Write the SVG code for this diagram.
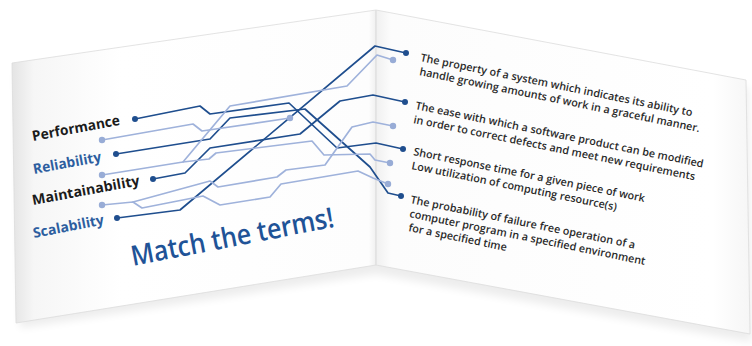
<svg xmlns="http://www.w3.org/2000/svg" width="752" height="346" viewBox="0 0 752 346">
  <defs>
    <filter id="soft" x="-10%" y="-10%" width="120%" height="130%">
      <feGaussianBlur stdDeviation="4"/>
    </filter>
    <linearGradient id="leftFill" x1="12" y1="0" x2="376" y2="0" gradientUnits="userSpaceOnUse">
      <stop offset="0" stop-color="#e4e4e4"/>
      <stop offset="0.06" stop-color="#f6f6f6"/>
      <stop offset="0.3" stop-color="#ffffff"/>
      <stop offset="0.98" stop-color="#fdfdfd"/>
      <stop offset="1" stop-color="#f0f0f0"/>
    </linearGradient>
    <linearGradient id="rightFill" x1="376" y1="0" x2="750" y2="0" gradientUnits="userSpaceOnUse">
      <stop offset="0" stop-color="#f0f0f0"/>
      <stop offset="0.04" stop-color="#fcfcfc"/>
      <stop offset="0.9" stop-color="#ffffff"/>
      <stop offset="1" stop-color="#f6f6f6"/>
    </linearGradient>
    <style>
      .edge { stroke: #dcdcdc; stroke-width: 0.8; }
      .dk { fill: none; stroke: #1f4e8e; stroke-width: 1.7; stroke-linejoin: round; stroke-linecap: round; }
      .lt { fill: none; stroke: #9fb2db; stroke-width: 1.7; stroke-linejoin: round; stroke-linecap: round; }
      .dkdot { fill: #1f4e8e; }
      .ltdot { fill: #98acd6; }
      .term { font-family: "Open Sans", "Noto Sans", "Liberation Sans", sans-serif; font-weight: 700; font-size: 14px; }
      .black { fill: #1b1b1b; }
      .blue { fill: #2d5e9f; }
      .title { font-family: "Open Sans", "Noto Sans", "Liberation Sans", sans-serif; font-weight: 600; font-size: 28px; fill: #1f5397; }
      .def { font-family: "Open Sans", "Noto Sans", "Liberation Sans", sans-serif; font-weight: 600; font-size: 10.8px; fill: #2a2a2a; }
    </style>
  </defs>

  <rect width="752" height="346" fill="#ffffff"/>

  <!-- card shadow -->
  <path d="M16,70 L376,18 L748,88 L752,342 L376,274 L20,328 Z" fill="#000" opacity="0.07" filter="url(#soft)"/>

  <!-- card panels -->
  <g id="card">
    <path class="edge" d="M12,63 L376,10 L376,265 L16,323 Z" fill="url(#leftFill)"/>
    <path class="edge" d="M376,10 L746,80 L750,334 L376,265 Z" fill="url(#rightFill)"/>
    <line x1="376" y1="10" x2="376" y2="265" stroke="#e2e2e2" stroke-width="1"/>
  </g>

  <!-- connectors -->
  <g id="connectors">
    <!-- dark lines -->
    <path class="dk" d="M135,119 L200,106 L210,114 L289,103 L337,148 L376,143 L403,149"/>
    <path class="dk" d="M116,154 L210,139 L230,118 L305,109 L370,167 L388,193 L401,196"/>
    <path class="dk" d="M153,179 L185,173 L210,148 L300,134 L340,101 L373,95 L405,102"/>
    <path class="dk" d="M117,218 L180,210 L375,46 L406,53"/>
    <!-- light lines -->
    <path class="lt" d="M102,140 L193,124 L202,131 L290,118"/>
    <path class="lt" d="M102,175 L183,162 L230,106 L347,86 L377,55 L393,60"/>
    <path class="lt" d="M183,162 L209,159 L216,153 L312,141 L324,155 L370,154 L375,160 L390,163"/>
    <path class="lt" d="M133,202 L210,181 L218,187 L277,177 L286,170 L325,165 L352,127 L373,122 L393,126"/>
    <path class="lt" d="M102,205 L133,202 L142,208 L203,196 L220,205 L270,197 L281,184 L358,171 L373,178 L388,184"/>
  </g>

  <!-- left terms -->
  <g id="term-performance">
    <circle class="dkdot" cx="135" cy="119" r="3"/>
    <circle class="ltdot" cx="102" cy="140" r="3.2"/>
    <g transform="translate(33,141) rotate(-10.5)">
      <text class="term black" x="0" y="0" textLength="89" lengthAdjust="spacingAndGlyphs">Performance</text>
    </g>
  </g>
  <g id="term-reliability">
    <circle class="dkdot" cx="116" cy="154" r="3"/>
    <circle class="ltdot" cx="102" cy="175" r="3.2"/>
    <g transform="translate(34,174) rotate(-10.5)">
      <text class="term blue" x="0" y="0" textLength="69" lengthAdjust="spacingAndGlyphs">Reliability</text>
    </g>
  </g>
  <g id="term-maintainability">
    <circle class="dkdot" cx="153" cy="179" r="3"/>
    <circle class="ltdot" cx="102" cy="205" r="3.2"/>
    <g transform="translate(33,205) rotate(-10.5)">
      <text class="term black" x="0" y="0" textLength="109" lengthAdjust="spacingAndGlyphs">Maintainability</text>
    </g>
  </g>
  <g id="term-scalability">
    <circle class="dkdot" cx="117" cy="218" r="3"/>
    <g transform="translate(34,238) rotate(-11)">
      <text class="term blue" x="0" y="0" textLength="72" lengthAdjust="spacingAndGlyphs">Scalability</text>
    </g>
  </g>
  <g id="middle-stop">
    <circle class="ltdot" cx="290" cy="118" r="3.2"/>
  </g>

  <g id="title">
    <g transform="translate(133,266) rotate(-11)">
      <text class="title" x="0" y="0" textLength="206" lengthAdjust="spacingAndGlyphs">Match the terms!</text>
    </g>
  </g>

  <!-- right definitions -->
  <g id="def-scalability">
    <circle class="dkdot" cx="406" cy="53" r="3"/>
    <circle class="ltdot" cx="393" cy="60" r="3.2"/>
    <text class="def" transform="translate(420,61) rotate(11.5)">The property of a system which indicates its ability to</text>
    <text class="def" transform="translate(419,75) rotate(11.5)">handle growing amounts of work in a graceful manner.</text>
  </g>
  <g id="def-maintainability">
    <circle class="dkdot" cx="405" cy="102" r="3"/>
    <circle class="ltdot" cx="393" cy="126" r="3.2"/>
    <text class="def" transform="translate(415,109) rotate(11.5)">The ease with which a software product can be modified</text>
    <text class="def" transform="translate(413,123) rotate(11.5)">in order to correct defects and meet new requirements</text>
  </g>
  <g id="def-performance">
    <circle class="dkdot" cx="403" cy="149" r="3"/>
    <circle class="ltdot" cx="390" cy="163" r="3.2"/>
    <text class="def" transform="translate(413,155) rotate(11.5)">Short response time for a given piece of work</text>
    <text class="def" transform="translate(411,169) rotate(11.5)">Low utilization of computing resource(s)</text>
  </g>
  <g id="def-reliability">
    <circle class="ltdot" cx="388" cy="184" r="3.2"/>
    <circle class="dkdot" cx="401" cy="196" r="3"/>
    <text class="def" transform="translate(410,203) rotate(11.5)">The probability of failure free operation of a</text>
    <text class="def" transform="translate(409,217) rotate(11.5)">computer program in a specified environment</text>
    <text class="def" transform="translate(408,231) rotate(11.5)">for a specified time</text>
  </g>
</svg>
